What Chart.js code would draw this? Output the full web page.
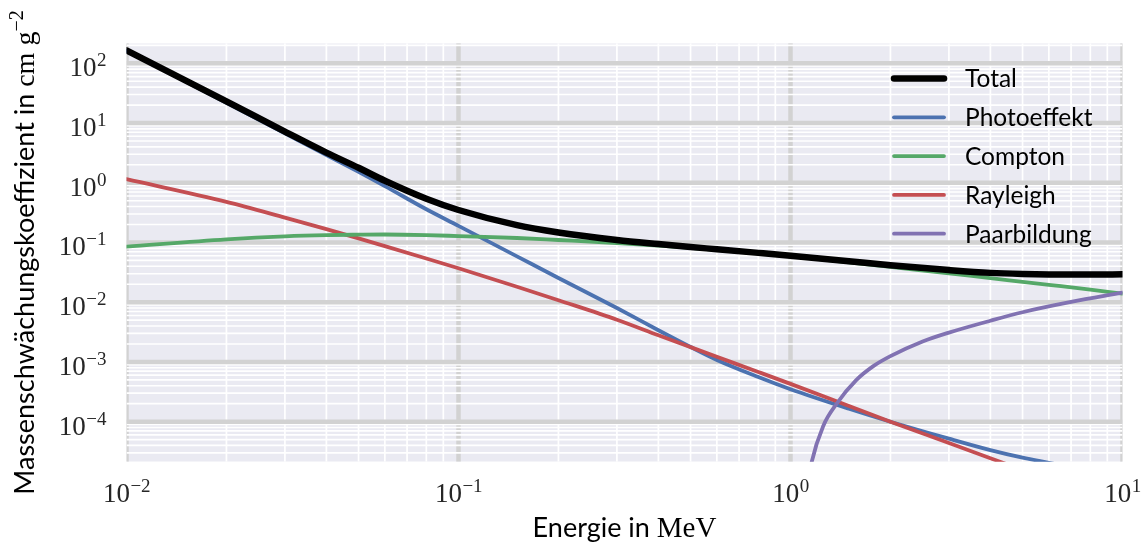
<!DOCTYPE html>
<html>
<head>
<meta charset="utf-8">
<script src="https://cdn.jsdelivr.net/npm/chart.js@4.4.0/dist/chart.umd.min.js"></script>
<style>
  html, body { margin: 0; padding: 0; background: #fff; }
  #wrap { width: 1148px; height: 543px; }
</style>
</head>
<body>
<div id="wrap"><canvas id="chart" width="1148" height="543"></canvas></div>
<script>
// Energie in MeV
const energies = [0.01, 0.02, 0.03, 0.04, 0.05, 0.06, 0.08, 0.1, 0.15, 0.2, 0.3, 0.4, 0.5, 0.6, 0.8, 1, 1.5, 2, 3, 4, 5, 6, 8, 10];
const total    = [165, 23, 7.2, 3.2, 1.78, 1.08, 0.54, 0.35, 0.195, 0.147, 0.11, 0.094, 0.084, 0.077, 0.067, 0.06, 0.0485, 0.0415, 0.0345, 0.031, 0.0297, 0.0292, 0.029, 0.0293];
const photo    = [162, 21.7, 6.7, 2.91, 1.52, 0.88, 0.36, 0.19, 0.0587, 0.0255, 0.008, 0.0034, 0.00178, 0.00108, 0.00056, 0.00035, 0.000165, 0.0001, 0.000052, 0.0000335, 0.000025, 0.0000205, 0.000015, null];
const compton  = [0.085, 0.113, 0.127, 0.133, 0.135, 0.136, 0.133, 0.128, 0.119, 0.11, 0.098, 0.089, 0.081, 0.075, 0.066, 0.059, 0.0465, 0.039, 0.0305, 0.0253, 0.022, 0.0196, 0.0163, 0.0139];
const rayleigh = [1.15, 0.48, 0.261, 0.167, 0.117, 0.087, 0.054, 0.037, 0.0182, 0.0108, 0.0051, 0.0028, 0.00177, 0.00122, 0.00068, 0.00043, 0.000183, 0.0001, 0.000044, 0.0000245, 0.0000155, null, null, null];
// Paarbildung erst ab ~1.1 MeV
const pairEnergies = [1.12, 1.158, 1.255, 1.377, 1.58, 1.776, 2, 2.5, 3, 4, 5, 7, 10];
const pair         = [0.000007, 0.000021, 0.000085, 0.0002, 0.0005, 0.00085, 0.00125, 0.0022, 0.0031, 0.0049, 0.0068, 0.0101, 0.0145];

const xDecades = [-2, -1, 0, 1];
const yDecades = [-4, -3, -2, -1, 0, 1, 2];

const SANS = 'Lato';
const SERIF = '"Liberation Serif"';

function pts(xs, ys) {
  return xs.map((e, i) => ({ x: e, y: ys[i] })).filter(p => p.y !== null);
}

// hintergrund + gitter wie seaborn darkgrid
const gridPlugin = {
  id: 'bgGrid',
  beforeDatasetsDraw(chart) {
    const { ctx, chartArea: a, scales: { x, y } } = chart;
    ctx.save();
    ctx.beginPath();
    ctx.rect(a.left, a.top, a.right - a.left, a.bottom - a.top);
    ctx.clip();
    ctx.fillStyle = '#EAEAF2';
    ctx.fillRect(a.left, a.top, a.right - a.left, a.bottom - a.top);

    const line = (x1, y1, x2, y2) => { ctx.beginPath(); ctx.moveTo(x1, y1); ctx.lineTo(x2, y2); ctx.stroke(); };
    // vertikal minor
    ctx.strokeStyle = '#ffffff'; ctx.lineWidth = 1.7;
    for (let e = -3; e <= 1; e++) for (let k = 2; k <= 9; k++) {
      const v = k * Math.pow(10, e);
      if (v > x.min && v < x.max) { const px = x.getPixelForValue(v); line(px, a.top, px, a.bottom); }
    }
    // vertikal major
    ctx.strokeStyle = '#d2d2d2'; ctx.lineWidth = 4.5;
    xDecades.forEach(e => { const px = x.getPixelForValue(Math.pow(10, e)); line(px, a.top, px, a.bottom); });
    // horizontal minor
    ctx.strokeStyle = '#ffffff'; ctx.lineWidth = 1.7;
    for (let e = -6; e <= 2; e++) for (let k = 2; k <= 9; k++) {
      const v = k * Math.pow(10, e);
      if (v > y.min && v < y.max) { const py = y.getPixelForValue(v); line(a.left, py, a.right, py); }
    }
    // horizontal major
    ctx.strokeStyle = '#d2d2d2'; ctx.lineWidth = 4.5;
    yDecades.forEach(e => { const py = y.getPixelForValue(Math.pow(10, e)); line(a.left, py, a.right, py); });
    ctx.restore();
  }
};

function expText(e) {
  return e < 0 ? '\u2212' + Math.abs(e) : String(e);
}

// "10^e" mit hochgestelltem exponent
function powLabel(ctx, e, x, y, align) {
  const base = '10';
  const ex = expText(e);
  ctx.font = '27px ' + SERIF;
  const wb = ctx.measureText(base).width;
  ctx.font = '19px ' + SERIF;
  const we = ctx.measureText(ex).width;
  const w = wb + we;
  let sx = x;
  if (align === 'right') sx = x - w;
  else if (align === 'center') sx = x - w / 2;
  ctx.textAlign = 'left';
  ctx.textBaseline = 'alphabetic';
  ctx.font = '27px ' + SERIF;
  ctx.fillText(base, sx, y);
  ctx.font = '19px ' + SERIF;
  ctx.fillText(ex, sx + wb + 0.5, y - 10);
}

// gemischte schriften in einer zeile
function runs(ctx, parts) {
  let w = 0;
  parts.forEach(p => { ctx.font = p.font; p.w = ctx.measureText(p.t).width; w += p.w; });
  return w;
}
function drawRuns(ctx, parts, cx, y) {
  const w = runs(ctx, parts);
  let sx = cx - w / 2;
  ctx.textAlign = 'left';
  ctx.textBaseline = 'alphabetic';
  parts.forEach(p => { ctx.font = p.font; ctx.fillText(p.t, sx, y - (p.dy || 0)); sx += p.w; });
}

const labelPlugin = {
  id: 'labels',
  afterDraw(chart) {
    const { ctx, chartArea: a, scales: { x, y } } = chart;
    ctx.save();
    ctx.fillStyle = '#262626';
    yDecades.forEach(e => powLabel(ctx, e, 106, y.getPixelForValue(Math.pow(10, e)) + 13, 'right'));
    xDecades.forEach(e => powLabel(ctx, e, x.getPixelForValue(Math.pow(10, e)), 502, 'center'));

    ctx.fillStyle = '#000';
    drawRuns(ctx, [
      { t: 'Energie in ', font: '27px ' + SANS },
      { t: 'MeV', font: '29px ' + SERIF }
    ], (a.left + a.right) / 2, 537);

    ctx.save();
    ctx.translate(34, (a.top + a.bottom) / 2);
    ctx.rotate(-Math.PI / 2);
    drawRuns(ctx, [
      { t: 'Massenschwächungskoeffizient in ', font: '27px ' + SANS },
      { t: 'cm g', font: '28px ' + SERIF },
      { t: '\u22122', font: '20px ' + SERIF, dy: 11 }
    ], 0, 0);
    ctx.restore();

    // legende oben rechts
    chart.data.datasets.forEach((ds, i) => {
      const ly = 78.5 + i * 38.8;
      ctx.strokeStyle = ds.borderColor;
      ctx.lineWidth = ds.borderWidth;
      ctx.lineCap = 'round';
      ctx.beginPath();
      ctx.moveTo(894, ly);
      ctx.lineTo(944, ly);
      ctx.stroke();
      ctx.fillStyle = '#000';
      ctx.font = '24.5px ' + SANS;
      ctx.textAlign = 'left';
      ctx.textBaseline = 'middle';
      ctx.fillText(ds.label, 965, ly + 1);
    });
    ctx.restore();
  }
};

const common = { pointRadius: 0, fill: false, cubicInterpolationMode: 'monotone', borderCapStyle: 'round', borderJoinStyle: 'round', clip: 0 };

new Chart(document.getElementById('chart').getContext('2d'), {
  type: 'line',
  data: {
    datasets: [
      { ...common, label: 'Total', data: pts(energies, total), borderColor: '#000000', borderWidth: 6.5, order: 0 },
      { ...common, label: 'Photoeffekt', data: pts(energies, photo), borderColor: '#4C72B0', borderWidth: 3.8, order: 4 },
      { ...common, label: 'Compton', data: pts(energies, compton), borderColor: '#55A868', borderWidth: 3.8, order: 2 },
      { ...common, label: 'Rayleigh', data: pts(energies, rayleigh), borderColor: '#C44E52', borderWidth: 3.8, order: 3 },
      { ...common, label: 'Paarbildung', data: pts(pairEnergies, pair), borderColor: '#8172B2', borderWidth: 3.8, order: 1 }
    ]
  },
  options: {
    responsive: false,
    animation: false,
    devicePixelRatio: 1,
    layout: { padding: { left: 126.5, top: 43.3, right: 25.5, bottom: 81.3 } },
    plugins: { legend: { display: false }, tooltip: { enabled: false } },
    scales: {
      x: { type: 'logarithmic', min: 0.01, max: 10, bounds: 'data', display: false },
      y: { type: 'logarithmic', min: 2.14e-5, max: 216, bounds: 'data', display: false }
    }
  },
  plugins: [gridPlugin, labelPlugin]
});
</script>
</body>
</html>
